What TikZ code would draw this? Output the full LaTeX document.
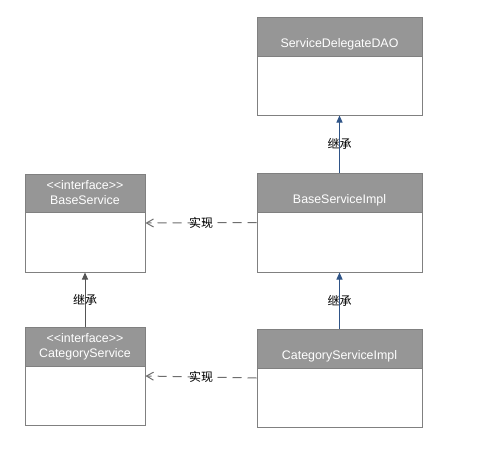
\documentclass[tikz,border=0pt]{standalone}
\usepackage{fontspec}
\setmainfont{Liberation Sans}
\newfontfamily\cjk{Noto Sans CJK SC}
\usetikzlibrary{arrows.meta}

\definecolor{headgray}{HTML}{969696}
\definecolor{linegray}{HTML}{808080}
\definecolor{inhblue}{HTML}{2F5487}
\definecolor{inhdark}{HTML}{555555}
\definecolor{dashgray}{HTML}{6E6E6E}

\newcommand{\stereo}[1]{<\kern0pt<#1>\kern0pt>}

\tikzset{
  classbox/.style={draw=linegray, fill=white, line width=1pt, inner sep=0pt},
  classhead/.style={draw=linegray, fill=headgray, line width=1pt, text=white,
    minimum height=39pt, inner sep=0pt, align=center,
    font=\fontsize{12.4}{15}\selectfont, anchor=north},
  inherit/.style={line width=1pt, -{Triangle[length=7pt,width=6pt]}},
  realize/.style={line width=1pt, dashgray, dash pattern=on 9pt off 6pt,
    -{Straight Barb[length=7pt,width=8pt]}},
  lbl/.style={font=\cjk\fontsize{12}{14}\selectfont, text=black, inner sep=1pt}
}

\begin{document}
\begin{tikzpicture}[x=1pt, y=-1pt]
    \useasboundingbox[fill=white] (0,0) rectangle (480,451);

    %=== Implementierungen ===
    \node[classbox, minimum width=165pt, minimum height=98pt] (dao) at (339.5,66) {};
    \node[classhead, minimum width=165pt] (daohead) at (dao.north) {\strut\\ServiceDelegateDAO};

    \node[classbox, minimum width=165pt, minimum height=99pt] (bsi) at (339.5,222.5) {};
    \node[classhead, minimum width=165pt] (bsihead) at (bsi.north) {\strut\\BaseServiceImpl};

    \node[classbox, minimum width=165pt, minimum height=98pt] (csi) at (339.5,378) {};
    \node[classhead, minimum width=165pt] (csihead) at (csi.north) {\strut\\CategoryServiceImpl};

    %=== Interfaces ===
    \node[classbox, minimum width=120pt, minimum height=98pt] (bs) at (85,223) {};
    \node[classhead, minimum width=120pt, minimum height=38pt] (bshead) at (bs.north)
        {\stereo{interface}\\BaseService};

    \node[classbox, minimum width=120pt, minimum height=98pt] (cs) at (85,376) {};
    \node[classhead, minimum width=120pt] (cshead) at (cs.north)
        {\stereo{interface}\\CategoryService};

    %=== Beziehungen ===
    \draw[inherit, inhblue] (bsi.north) -- node[lbl] {继承} (dao.south);
    \draw[inherit, inhblue] (csi.north) -- node[lbl] {继承} (bsi.south);
    \draw[inherit, inhdark] (cs.north) -- node[lbl] {继承} (bs.south);
    \draw[realize] (bsi.west) -- node[lbl] {实现} (bs.east);
    \draw[realize] (csi.west) -- node[lbl] {实现} (cs.east);
\end{tikzpicture}
\end{document}
